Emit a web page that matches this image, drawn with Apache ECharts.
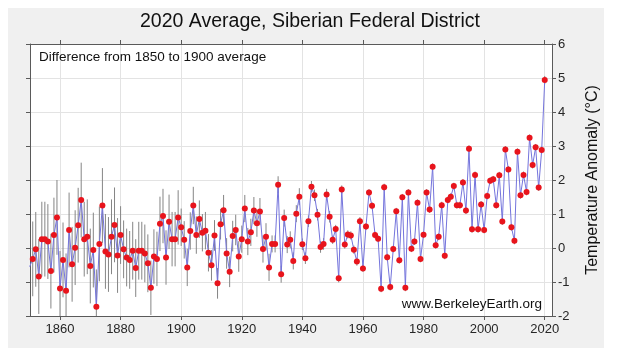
<!DOCTYPE html>
<html>
<head>
<meta charset="utf-8">
<script src="https://cdn.jsdelivr.net/npm/echarts@6/dist/echarts.min.js"></script>
<style>
html,body{margin:0;padding:0;background:#ffffff;}
#chart{width:620px;height:358px;}
</style>
</head>
<body>
<div id="chart"></div>
<script>
// ---- data ----
var startYear = 1850;
var anomalies = [
 -0.55,-0.32,-0.04,-0.84,0.26,0.26,0.19,-0.68,0.38,0.90,
 -1.19,-0.35,-1.26,0.53,-0.48,0.01,0.67,1.41,0.26,0.33,
 -0.53,-0.06,-1.73,0.12,1.25,-0.10,-0.19,0.33,0.68,-0.22,
 0.38,-0.04,-0.28,-0.35,-0.08,-0.59,-0.08,-0.08,-0.16,-0.45,
 -1.17,-0.25,-0.32,0.71,0.94,-0.28,0.77,0.26,0.26,0.90,
 0.61,0.24,-0.57,0.50,1.25,0.38,0.85,0.45,0.51,-0.14,
 -0.51,0.37,-1.04,0.70,1.11,-0.16,-0.70,0.35,0.53,-0.25,
 0.26,1.16,0.19,0.46,1.10,0.73,1.07,-0.03,0.33,-0.57,
 0.12,0.12,1.86,-0.77,0.88,0.10,0.24,-0.38,1.01,1.51,
 0.11,-0.30,0.79,1.80,1.55,0.98,0.03,0.12,1.57,0.92,
 0.24,0.56,-0.89,1.72,0.10,0.40,0.37,-0.05,-0.40,0.79,
 -0.60,0.63,1.63,1.24,0.38,0.27,-1.20,1.79,-0.27,-1.15,
 -0.03,1.08,-0.36,1.49,-1.17,1.63,-0.02,0.19,1.33,-0.32,
 0.39,1.63,1.13,2.39,0.08,0.33,1.26,-0.23,1.41,1.51,
 1.82,1.26,1.26,1.93,1.10,2.92,0.55,2.15,0.55,1.28,
 0.53,1.53,1.98,2.02,1.26,2.14,0.78,2.90,2.31,0.61,
 0.21,2.83,1.55,2.15,1.65,3.24,2.44,2.96,1.78,2.88,
 4.94
];
// 95% uncertainty half-width per decade (1850s ... 2020s)
var uncertaintyByDecade = [1.1,1.1,1.1,0.85,0.8,0.55,0.45,0.4,0.25,0.17,0.12,0.1,0.1,0.1,0.1,0.1,0.1,0.12];
var xTickValues = [1860,1880,1900,1920,1940,1960,1980,2000,2020];
var yTickValues = [-2,-1,0,1,2,3,4,5,6];
var titleText = '2020 Average, Siberian Federal District';
var subText = 'Difference from 1850 to 1900 average';
var creditText = 'www.BerkeleyEarth.org';
var yName = 'Temperature Anomaly (\u00B0C)';

// ---- build series data ----
var lineData = [], errData = [];
for (var i = 0; i < anomalies.length; i++) {
  var yr = startYear + i;
  var u = uncertaintyByDecade[Math.floor((yr - 1850) / 10)];
  lineData.push([yr, anomalies[i]]);
  errData.push([yr, anomalies[i] - u, anomalies[i] + u]);
}
var vGridLines = xTickValues.map(function (v) { return {xAxis: v}; });

var FONT = '"Liberation Sans", Arial, Helvetica, sans-serif';
var chart = echarts.init(document.getElementById('chart'), null, {renderer: 'canvas'});

var axisLineStyle = {color: '#5a5a5a', width: 1};
var option = {
  animation: false,
  backgroundColor: '#ffffff',
  graphic: [
    {type: 'rect', z: -10, shape: {x: 8, y: 8, width: 596, height: 340}, style: {fill: '#f0f0f0'}, silent: true},
    {type: 'rect', z: -9, shape: {x: 30, y: 44, width: 522, height: 272}, style: {fill: '#ffffff'}, silent: true},
    {type: 'text', left: 'center', top: 12, z: 10,
     style: {text: titleText, font: '19.5px ' + FONT, fill: '#111111'}},
    {type: 'text', left: 39, top: 50, z: 10,
     style: {text: subText, font: '13.5px ' + FONT, fill: '#111111'}},
    {type: 'text', right: 78, top: 297, z: 10,
     style: {text: creditText, font: '13.5px ' + FONT, fill: '#111111'}}
  ],
  grid: {left: 30, right: 68, top: 44, bottom: 42, containLabel: false},
  xAxis: [
    {
      type: 'value', min: 1850.1, max: 2022.4, position: 'bottom',
      axisLine: {show: true, onZero: false, lineStyle: axisLineStyle},
      axisTick: {show: true, inside: false, length: 4, customValues: xTickValues, lineStyle: axisLineStyle},
      axisLabel: {show: true, customValues: xTickValues, color: '#262626', fontSize: 13, fontFamily: FONT, margin: 7,
                  formatter: function (v) { return String(Math.round(v)); }},
      splitLine: {show: false}
    },
    {
      type: 'value', min: 1850.1, max: 2022.4, position: 'top',
      axisLine: {show: true, onZero: false, lineStyle: axisLineStyle},
      axisTick: {show: true, inside: false, length: 4, customValues: xTickValues, lineStyle: axisLineStyle},
      axisLabel: {show: false},
      splitLine: {show: false}
    }
  ],
  yAxis: [
    {
      type: 'value', min: -2, max: 6, interval: 1, position: 'right',
      name: yName, nameLocation: 'middle', nameRotate: 90, nameGap: 33,
      nameTextStyle: {color: '#111111', fontSize: 16, fontFamily: FONT},
      axisLine: {show: true, onZero: false, lineStyle: axisLineStyle},
      axisTick: {show: true, inside: false, length: 4, lineStyle: axisLineStyle},
      axisLabel: {show: true, color: '#262626', fontSize: 13, fontFamily: FONT, margin: 6},
      splitLine: {show: true, lineStyle: {color: '#e3e3e3', width: 1}}
    },
    {
      type: 'value', min: -2, max: 6, interval: 1, position: 'left',
      axisLine: {show: true, onZero: false, lineStyle: axisLineStyle},
      axisTick: {show: true, inside: false, length: 4, lineStyle: axisLineStyle},
      axisLabel: {show: false},
      splitLine: {show: false}
    }
  ],
  series: [
    {
      type: 'line', name: 'grid', xAxisIndex: 0, yAxisIndex: 0, z: 0,
      data: [], silent: true,
      markLine: {
        z: 0, silent: true, symbol: ['none', 'none'], label: {show: false},
        lineStyle: {color: '#e3e3e3', width: 1, type: 'solid'},
        emphasis: {disabled: true},
        animation: false,
        data: vGridLines
      }
    },
    {
      type: 'custom', name: 'uncertainty', xAxisIndex: 0, yAxisIndex: 0, z: 2,
      clip: true,
      data: errData,
      renderItem: function (params, api) {
        var x = api.value(0);
        var p1 = api.coord([x, api.value(1)]);
        var p2 = api.coord([x, api.value(2)]);
        var cs = params.coordSys;
        if (p1[0] < cs.x || p1[0] > cs.x + cs.width) return null;
        var y1 = Math.min(Math.max(p1[1], cs.y), cs.y + cs.height);
        var y2 = Math.min(Math.max(p2[1], cs.y), cs.y + cs.height);
        return {
          type: 'line',
          shape: {x1: p1[0], y1: y1, x2: p2[0], y2: y2},
          style: {stroke: '#858585', lineWidth: 1}
        };
      }
    },
    {
      type: 'line', name: 'anomaly', xAxisIndex: 0, yAxisIndex: 0, z: 3,
      clip: true,
      data: lineData,
      lineStyle: {color: '#7474dc', width: 1},
      symbol: 'circle', symbolSize: 6,
      itemStyle: {color: '#e8141c', borderWidth: 0},
      showSymbol: true
    }
  ]
};
chart.setOption(option);
</script>
</body>
</html>
